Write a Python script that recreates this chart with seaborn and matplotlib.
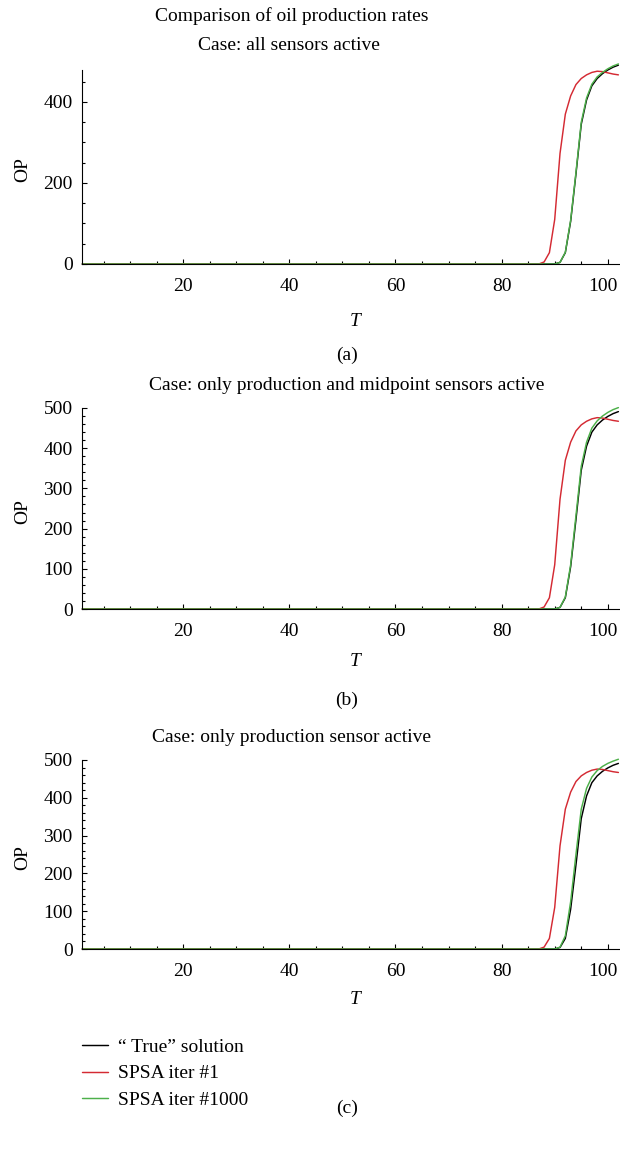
"""Oil production rate comparison: true solution vs SPSA iterates, three sensor cases."""

import matplotlib
matplotlib.use("Agg")
import matplotlib.pyplot as plt
from matplotlib.ticker import MultipleLocator
from matplotlib.transforms import ScaledTranslation
import seaborn as sns

W, H = 620, 1149

# time grid: flat zero stretch from T=1, then unit steps through breakthrough
t = [1, 85, 86, 87, 88, 89, 90, 91, 92, 93, 94, 95, 96, 97, 98, 99, 100, 101, 102]

true_op = [0, 0, 0, 0, 0, 0, 0, 4, 28, 105, 222, 345, 405, 440, 458, 470, 479, 486, 491]
spsa_1 = [0, 0, 0, 0, 5, 28, 110, 273, 370, 415, 443, 458, 467, 473, 476, 475, 472, 469, 467]
spsa_1000_a = [0, 0, 0, 0, 0, 0, 0, 4, 29, 108, 226, 350, 410, 444, 462, 473, 482, 489, 494]
spsa_1000_b = [0, 0, 0, 0, 0, 0, 0, 4, 30, 110, 232, 355, 415, 450, 468, 480, 489, 496, 501]
spsa_1000_c = [0, 0, 0, 0, 0, 0, 0, 5, 35, 125, 250, 370, 425, 455, 472, 483, 491, 497, 502]

cases = ["Case: all sensors active",
         "Case: only production and midpoint sensors active",
         "Case: only production sensor active"]
panel_tags = ["(a)", "(b)", "(c)"]
series_names = ["\u201c True\u201d solution", "SPSA iter #1", "SPSA iter #1000"]

BLACK, RED, GREEN = "#000000", "#d42a33", "#4db04a"

sns.set_theme(style="ticks")
plt.rcParams["font.family"] = ["Liberation Serif", "DejaVu Serif"]
plt.rcParams["text.color"] = "black"
FS = 14


def box(left, right, top, bottom):
    return [left / W, 1 - bottom / H, (right - left) / W, (bottom - top) / H]


def ftext(x, y, s, **kw):
    fig.text(x / W, 1 - y / H, s, ha="center", va="center", fontsize=FS, **kw)


fig = plt.figure(figsize=(W / 100, H / 100), dpi=100)

# pixel geometry of each panel: (top, bottom, ymax, y major, y minor)
panels = [
    (70, 264, 479, 200, 50),
    (408, 609, 500, 100, 20),
    (760, 949, 500, 100, 20),
]
green_runs = [spsa_1000_a, spsa_1000_b, spsa_1000_c]
title_pos = [(289, 45), (347, 385), (291, 737)]
tlabel_y = [322, 662, 1000]
tag_y = [355, 700, 1108]

handles = []
for i, (top, bottom, ymax, ymaj, ymin) in enumerate(panels):
    ax = fig.add_axes(box(82.3, 620, top, bottom))
    for vals, col in [(true_op, BLACK), (spsa_1, RED), (green_runs[i], GREEN)]:
        sns.lineplot(x=t, y=vals, ax=ax, color=col, lw=1.05, clip_on=False, zorder=2)
    ax.set_xlim(1, 102.3)
    ax.set_ylim(0, ymax)
    ax.xaxis.set_minor_locator(MultipleLocator(5))
    ax.yaxis.set_major_locator(MultipleLocator(ymaj))
    ax.yaxis.set_minor_locator(MultipleLocator(ymin))
    ax.set_xticks([20, 40, 60, 80, 100])
    ax.tick_params(which="both", direction="in", width=0.8, labelsize=FS, colors="black")
    ax.tick_params(which="major", length=3.5)
    ax.tick_params(which="minor", length=2.2)
    ax.tick_params(axis="x", pad=10)
    ax.tick_params(axis="y", pad=7)
    # last x label sits on the right edge; nudge it so it stays inside the figure
    last = ax.get_xticklabels()[-1]
    last.set_transform(last.get_transform() + ScaledTranslation(-5 / 100, 0, fig.dpi_scale_trans))
    for side in ["top", "right"]:
        ax.spines[side].set_visible(False)
    for side in ["left", "bottom"]:
        ax.spines[side].set_linewidth(0.8)
        ax.spines[side].set_color("black")
        ax.spines[side].set_zorder(3)
    ax.patch.set_alpha(0)
    ax.set_xlabel("")
    ax.set_ylabel("")
    if i == 2:
        handles = ax.get_lines()[:3]

    ftext(*title_pos[i], cases[i])
    ftext(22.5, (top + bottom) / 2 + 3, "OP", rotation=90)
    ftext(355, tlabel_y[i], "T", style="italic")
    ftext(347, tag_y[i], panel_tags[i])

ftext(292, 16, "Comparison of oil production rates")

fig.legend(handles, series_names, loc="center left", frameon=False,
           bbox_to_anchor=(82 / W, 1 - 1073.5 / H), fontsize=FS,
           handlelength=1.35, handletextpad=0.5, labelspacing=0.45,
           borderpad=0, borderaxespad=0, labelcolor="black")

fig.savefig("out.png", dpi=100)
